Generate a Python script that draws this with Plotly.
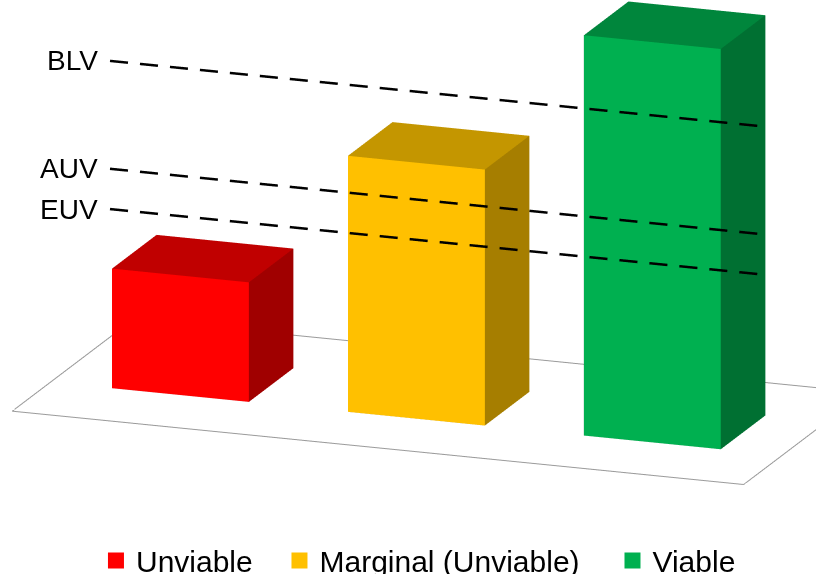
import math
import plotly.graph_objects as go

# ---------------- data ----------------
categories = ["Unviable", "Marginal (Unviable)", "Viable"]
values = [0.92, 1.97, 3.08]
threshold_labels = ["BLV", "AUV", "EUV"]
threshold_values = [2.53, 1.70, 1.39]

# ---------------- style ----------------
front_colors = ["#FF0000", "#FFC000", "#00B050"]
top_colors = ["#C00000", "#C49600", "#00863C"]
side_colors = ["#A00000", "#A67E00", "#007032"]

bar_w = 0.58
bar_d = 0.55
x_rng = [-0.55, 2.55]
y_rng = [-0.75, 0.75]
z_rng = [0.0, 3.1]

fig = go.Figure()


def box_mesh(i, h, name):
    x0, x1 = i - bar_w / 2, i + bar_w / 2
    y0, y1 = -bar_d / 2, bar_d / 2
    X = [x0, x1, x1, x0, x0, x1, x1, x0]
    Y = [y0, y0, y0, y0, y1, y1, y1, y1]
    Z = [0, 0, h, h, 0, 0, h, h]
    tris = [
        (0, 1, 2, "f"), (0, 2, 3, "f"),
        (1, 5, 6, "s"), (1, 6, 2, "s"),
        (3, 2, 6, "t"), (3, 6, 7, "t"),
        (0, 4, 7, "s"), (0, 7, 3, "s"),
        (4, 5, 6, "s"), (4, 6, 7, "s"),
        (0, 1, 5, "s"), (0, 5, 4, "s"),
    ]
    cmap = {"f": front_colors[i], "s": side_colors[i], "t": top_colors[i]}
    return go.Mesh3d(
        x=X, y=Y, z=Z,
        i=[t[0] for t in tris], j=[t[1] for t in tris], k=[t[2] for t in tris],
        facecolor=[cmap[t[3]] for t in tris],
        flatshading=True,
        lighting=dict(ambient=1.0, diffuse=0.0, specular=0.0, roughness=1.0, fresnel=0.0),
        hoverinfo="skip", showlegend=False, name=name,
    )


for i, (cat, v) in enumerate(zip(categories, values)):
    fig.add_trace(box_mesh(i, v, cat))

# floor outline
fx = [x_rng[0], x_rng[1], x_rng[1], x_rng[0], x_rng[0]]
fy = [y_rng[0], y_rng[0], y_rng[1], y_rng[1], y_rng[0]]
fig.add_trace(go.Scatter3d(x=fx, y=fy, z=[0] * 5, mode="lines",
                           line=dict(color="#9A9A9A", width=2),
                           hoverinfo="skip", showlegend=False))

# threshold dashed lines (dash pattern built along the line)
line_x0 = -bar_w / 2
line_x1 = 2 + bar_w / 2 + 0.195
line_y = -bar_d / 2 - 0.025
dash_period = 0.127
dash_len = 0.0763
for lab, tv in zip(threshold_labels, threshold_values):
    xs, ys, zs = [], [], []
    s = line_x0
    while s < line_x1:
        e = min(s + dash_len, line_x1)
        xs += [s, e, None]
        ys += [line_y, line_y, None]
        zs += [tv, tv, None]
        s += dash_period
    fig.add_trace(go.Scatter3d(x=xs, y=ys, z=zs, mode="lines", connectgaps=False,
                               line=dict(color="black", width=5),
                               hoverinfo="skip", showlegend=False))

# legend entries (markers hidden inside the bars), one legend box each
legend_ids = ["legend", "legend2", "legend3"]
for i, (cat, v) in enumerate(zip(categories, values)):
    fig.add_trace(go.Scatter3d(x=[i], y=[0], z=[v / 2], mode="markers", name=cat,
                               marker=dict(symbol="square", size=16, color=front_colors[i]),
                               hoverinfo="skip", showlegend=True, legend=legend_ids[i]))

annotations = [
    dict(x=line_x0, y=line_y, z=tv, text=lab, showarrow=False,
         xanchor="right", yanchor="middle", xshift=-10,
         font=dict(family="Liberation Sans, Arial", size=28, color="black"))
    for lab, tv in zip(threshold_labels, threshold_values)
]

# camera (orthographic); ortho view spans +-1 scene unit vertically
sx, sy, sz = 251.1, 236.8, 135.2
P = 287.0
ax = (x_rng[1] - x_rng[0]) * sx / P
ay = (y_rng[1] - y_rng[0]) * sy / P
az = (z_rng[1] - z_rng[0]) * sz / P
th, ph = math.radians(20), math.radians(16)
d = [math.sin(th) * math.cos(ph), -math.cos(th) * math.cos(ph), math.sin(ph)]
dist = 3.0
cx = (0.870 - sum(x_rng) / 2) / (x_rng[1] - x_rng[0]) * ax
cz = (0.86 - sum(z_rng) / 2) / (z_rng[1] - z_rng[0]) * az
center = dict(x=cx, y=0, z=cz)
eye = dict(x=cx + dist * d[0], y=dist * d[1], z=cz + dist * d[2])

noax = dict(visible=False, showspikes=False)
leg_font = dict(family="Liberation Sans, Arial", size=30, color="black")
leg_common = dict(orientation="h", xanchor="left", yanchor="middle", y=0.0235,
                  font=leg_font, itemsizing="trace", bgcolor="rgba(0,0,0,0)")
fig.update_layout(
    width=816, height=574,
    margin=dict(l=0, r=0, t=0, b=0, autoexpand=False),
    paper_bgcolor="white",
    hovermode=False,
    scene=dict(
        domain=dict(x=[0, 1], y=[0, 1]),
        xaxis=dict(noax, range=x_rng),
        yaxis=dict(noax, range=y_rng),
        zaxis=dict(noax, range=z_rng),
        aspectmode="manual",
        aspectratio=dict(x=ax, y=ay, z=az),
        camera=dict(eye=eye, center=center, up=dict(x=0, y=0, z=1),
                    projection=dict(type="orthographic")),
        annotations=annotations,
        bgcolor="white",
    ),
    showlegend=True,
    legend=dict(leg_common, x=0.1176),
    legend2=dict(leg_common, x=0.3425),
    legend3=dict(leg_common, x=0.7506),
)

fig.write_html("out.html")
